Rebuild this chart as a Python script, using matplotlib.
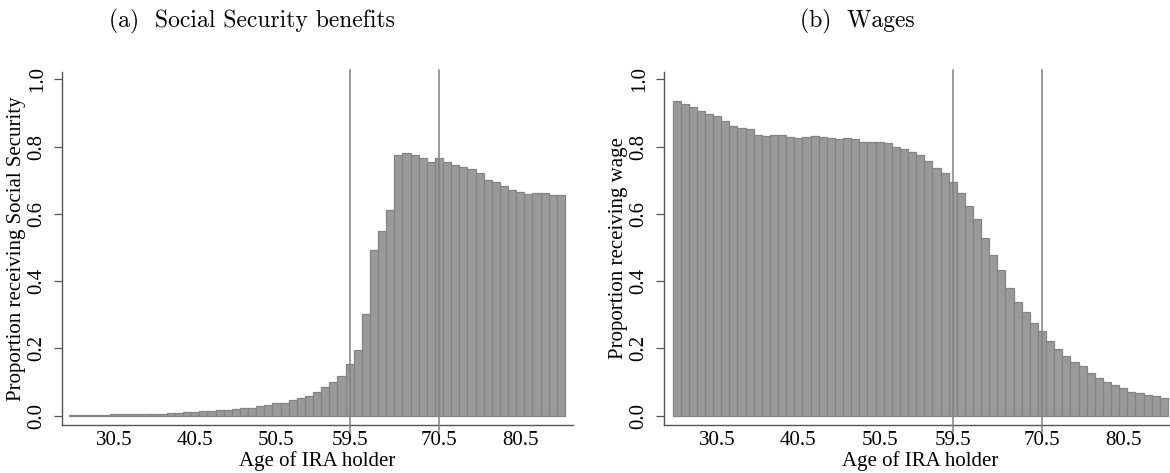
import numpy as np
import matplotlib
matplotlib.use("Agg")
import matplotlib.pyplot as plt

ages = list(range(25, 86))  # bar for age a spans [a, a+1]

social_security = [
    0.002, 0.002, 0.003, 0.003, 0.003, 0.004,            # 25-30
    0.004, 0.005, 0.005, 0.005, 0.006, 0.006,            # 31-36
    0.008, 0.009, 0.010, 0.011, 0.013,                   # 37-41
    0.013, 0.016, 0.017, 0.019, 0.022, 0.024, 0.029,     # 42-48
    0.031, 0.038, 0.039, 0.046, 0.052, 0.060, 0.070,     # 49-55
    0.084, 0.100, 0.118, 0.154, 0.195, 0.303, 0.493,     # 56-62
    0.550, 0.612, 0.774, 0.782, 0.775, 0.765, 0.754,     # 63-69
    0.765, 0.754, 0.744, 0.738, 0.732, 0.720, 0.700,     # 70-76
    0.694, 0.682, 0.670, 0.664, 0.658, 0.661, 0.661,     # 77-83
    0.655, 0.655,                                        # 84-85
]

wages = [
    0.935, 0.926, 0.918, 0.907, 0.897, 0.891,            # 25-30
    0.876, 0.862, 0.855, 0.851, 0.835, 0.831,            # 31-36
    0.835, 0.834, 0.829, 0.825, 0.828,                   # 37-41
    0.831, 0.829, 0.825, 0.823, 0.825, 0.822, 0.815,     # 42-48
    0.814, 0.814, 0.810, 0.800, 0.792, 0.783, 0.774,     # 49-55
    0.757, 0.736, 0.722, 0.694, 0.661, 0.623, 0.584,     # 56-62
    0.527, 0.478, 0.432, 0.379, 0.339, 0.307, 0.276,     # 63-69
    0.251, 0.221, 0.197, 0.177, 0.161, 0.147, 0.128,     # 70-76
    0.111, 0.100, 0.090, 0.081, 0.070, 0.067, 0.061,     # 77-83
    0.058, 0.052,                                        # 84-85
]

xtick_vals = [30.5, 40.5, 50.5, 59.5, 70.5, 80.5]
ytick_vals = [0.0, 0.2, 0.4, 0.6, 0.8, 1.0]
vlines = [59.5, 70.5]

titles = ["(a)  Social Security benefits", "(b)  Wages"]
ylabels = ["Proportion receiving Social Security", "Proportion receiving wage"]
xlabel = "Age of IRA holder"

W, H = 1170, 473
fig = plt.figure(figsize=(W / 100, H / 100), dpi=100)

serif = ["Liberation Serif", "DejaVu Serif"]

def px_axes(left, right, top, bottom):
    return fig.add_axes([left / W, 1 - bottom / H, (right - left) / W, (bottom - top) / H])

ylim = (-0.0276, 1.0217)
panels = [
    (px_axes(62, 573, 72, 425), social_security, (24.1, 87.0)),
    (px_axes(664, 1176, 72, 425), wages, (23.95, 87.0)),
]

for i, (ax, vals, xl) in enumerate(panels):
    ax.bar(ages, vals, width=1.0, align="edge", color="#9a9a9a",
           edgecolor="#848484", linewidth=0.9, zorder=2)
    for v in vlines:
        ax.plot([v, v], [-0.048, 1.027], color="#808080", lw=1.1,
                clip_on=False, zorder=3)
    ax.set_xlim(*xl)
    ax.set_ylim(*ylim)
    for s in ["top", "right"]:
        ax.spines[s].set_visible(False)
    for s in ["left", "bottom"]:
        ax.spines[s].set_color("#555555")
        ax.spines[s].set_linewidth(1.0)
    ax.set_xticks(xtick_vals)
    ax.set_xticklabels([f"{t:.1f}" for t in xtick_vals], fontfamily=serif, fontsize=15)
    ax.tick_params(axis="x", length=0, pad=4)
    ax.set_yticks(ytick_vals)
    ax.set_yticklabels([f"{t:.1f}" for t in ytick_vals], fontfamily=serif,
                       fontsize=15, rotation=90, va="center")
    ax.tick_params(axis="y", length=6, width=0.9, color="#555555", pad=5)
    ax.set_xlabel(xlabel, fontfamily=serif, fontsize=15, labelpad=1)
    ax.set_ylabel(ylabels[i], fontfamily=serif, fontsize=15, labelpad=1)
    ax.patch.set_alpha(0)

fig.text(252 / W, 1 - 21 / H, titles[0], fontfamily="cmr10", fontsize=17,
         ha="center", va="center")
fig.text(857 / W, 1 - 21 / H, titles[1], fontfamily="cmr10", fontsize=17,
         ha="center", va="center")

fig.savefig("out.png", dpi=100)
